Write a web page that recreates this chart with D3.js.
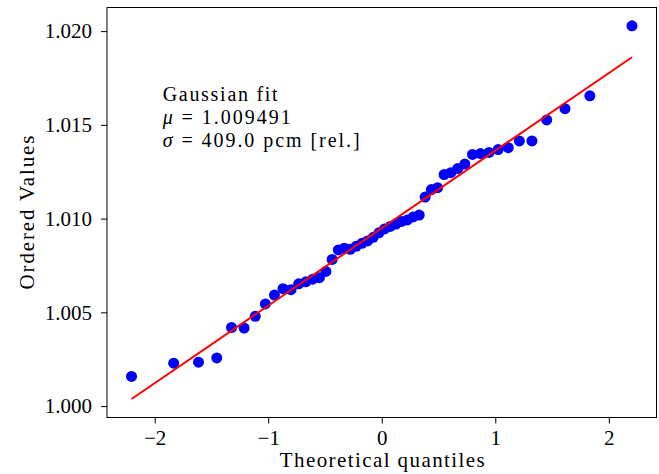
<!DOCTYPE html>
<html>
<head>
<meta charset="utf-8">
<script src="https://cdn.jsdelivr.net/npm/d3@7"></script>
<style>
  body { margin: 0; background: #fff; }
  text { font-family: "Liberation Serif", "DejaVu Serif", serif; fill: #000; }
  .axis path, .axis line { stroke: #000; stroke-width: 1px; }
</style>
</head>
<body>
<svg id="qq-plot" width="659" height="474"></svg>
<script>
"use strict";

//Theoretical quantiles (x) of the 50 sorted samples
var quantiles = [
  -2.204, -1.833, -1.614, -1.453, -1.323, -1.212, -1.114, -1.025, -0.945, -0.870,
  -0.799, -0.732, -0.669, -0.608, -0.549, -0.492, -0.437, -0.382, -0.330, -0.277,
  -0.226, -0.175, -0.125, -0.075, -0.025, 0.025, 0.075, 0.125, 0.175, 0.226,
  0.277, 0.330, 0.382, 0.437, 0.492, 0.549, 0.608, 0.669, 0.732, 0.799,
  0.870, 0.945, 1.025, 1.114, 1.212, 1.323, 1.453, 1.614, 1.833, 2.204
];

//Ordered values (y)
var orderedValues = [
  1.00158, 1.00229, 1.00234, 1.00257, 1.00419, 1.00416, 1.00479, 1.00545, 1.00592, 1.00626,
  1.00621, 1.00652, 1.00663, 1.00677, 1.00685, 1.00718, 1.00782, 1.00833, 1.00842, 1.00836,
  1.00852, 1.00868, 1.00881, 1.00900, 1.00924, 1.00945, 1.00958, 1.00971, 1.00985, 1.00993,
  1.01009, 1.01019, 1.01115, 1.01155, 1.01165, 1.01235, 1.01245, 1.01267, 1.01291, 1.01342,
  1.01347, 1.01353, 1.01368, 1.01378, 1.01414, 1.01414, 1.01526, 1.01586, 1.01655, 1.02028
];

//Fit line: value = intercept + slope * quantile
var fitIntercept = 1.009491;
var fitSlope = 0.004135;

//Tick values
var xTicks = [-2, -1, 0, 1, 2];
var yTicks = [1.000, 1.005, 1.010, 1.015, 1.020];

//Annotation lines
var fitLabel = "Gaussian fit";
var muLabel = "1.009491";
var sigmaLabel = "409.0 pcm [rel.]";

var svg = d3.select("#qq-plot"),
margin = {top: 7.5, right: 2.5, bottom: 56.5, left: 107},
width = svg.attr("width") - margin.left - margin.right,
height = svg.attr("height") - margin.top - margin.bottom,
g = svg.append("g").attr("transform", "translate(" + margin.left + "," + margin.top + ")");

// Sets scales
var x = d3.scaleLinear().domain([-2.42, 2.42]).range([0, width]),
y = d3.scaleLinear().domain([0.99939, 1.02126]).range([height, 0]);

var points = quantiles.map(function(q, i) {
  return {q: q, v: orderedValues[i]};
});

//Axes
g.append("g")
.attr("class", "axis axis--x")
.attr("transform", "translate(0," + height + ")")
.call(d3.axisBottom(x).tickValues(xTicks).tickSize(6).tickPadding(7)
  .tickFormat(function(d) { return d < 0 ? "\u2212" + Math.abs(d) : d; }))
.call(function(a) { a.select(".domain").remove(); })
.selectAll("text")
.style("font-size", "21px");

g.append("g")
.attr("class", "axis axis--y")
.call(d3.axisLeft(y).tickValues(yTicks).tickSize(6).tickPadding(9).tickFormat(d3.format(".3f")))
.call(function(a) { a.select(".domain").remove(); })
.selectAll("text")
.style("font-size", "21px");

//Frame around the plot area
g.append("rect")
.attr("width", width)
.attr("height", height)
.attr("fill", "none")
.attr("stroke", "#000")
.attr("stroke-width", 1);

//Sample points
g.selectAll(".dot")
.data(points)
.enter().append("circle")
.attr("class", "dot")
.attr("cx", function(d) { return x(d.q); })
.attr("cy", function(d) { return y(d.v); })
.attr("r", 5.5)
.attr("fill", "#0000ff");

//Fit line over the points
var qExtent = d3.extent(quantiles);
var line = d3.line()
.x(function(d) { return x(d); })
.y(function(d) { return y(fitIntercept + fitSlope * d); });

g.append("path")
.datum(qExtent)
.attr("d", line)
.attr("fill", "none")
.attr("stroke", "#ff0000")
.attr("stroke-width", 2);

//Annotation text, one text element per line so each can be stretched
var noteX = x(-1.93);

g.append("text")
.attr("x", noteX)
.attr("y", 93)
.attr("textLength", 115)
.attr("lengthAdjust", "spacing")
.style("font-size", "20px")
.text(fitLabel);

var mu = g.append("text")
.attr("x", noteX)
.attr("y", 116)
.attr("textLength", 128)
.attr("lengthAdjust", "spacing")
.style("font-size", "20px");
mu.append("tspan").style("font-style", "italic").text("\u03bc");
mu.append("tspan").text(" = " + muLabel);

var sigma = g.append("text")
.attr("x", noteX)
.attr("y", 139.5)
.attr("textLength", 197)
.attr("lengthAdjust", "spacing")
.style("font-size", "20px");
sigma.append("tspan").style("font-style", "italic").text("\u03c3");
sigma.append("tspan").text(" = " + sigmaLabel);

//Axis labels
svg.append("text")
.attr("x", margin.left + width / 2 - 102)
.attr("y", 467)
.attr("textLength", 205)
.attr("lengthAdjust", "spacing")
.style("font-size", "21px")
.text("Theoretical quantiles");

svg.append("text")
.attr("transform", "translate(34," + (margin.top + height / 2) + ") rotate(-90)")
.attr("x", -77)
.attr("textLength", 154)
.attr("lengthAdjust", "spacing")
.style("font-size", "21px")
.text("Ordered Values");
</script>
</body>
</html>
